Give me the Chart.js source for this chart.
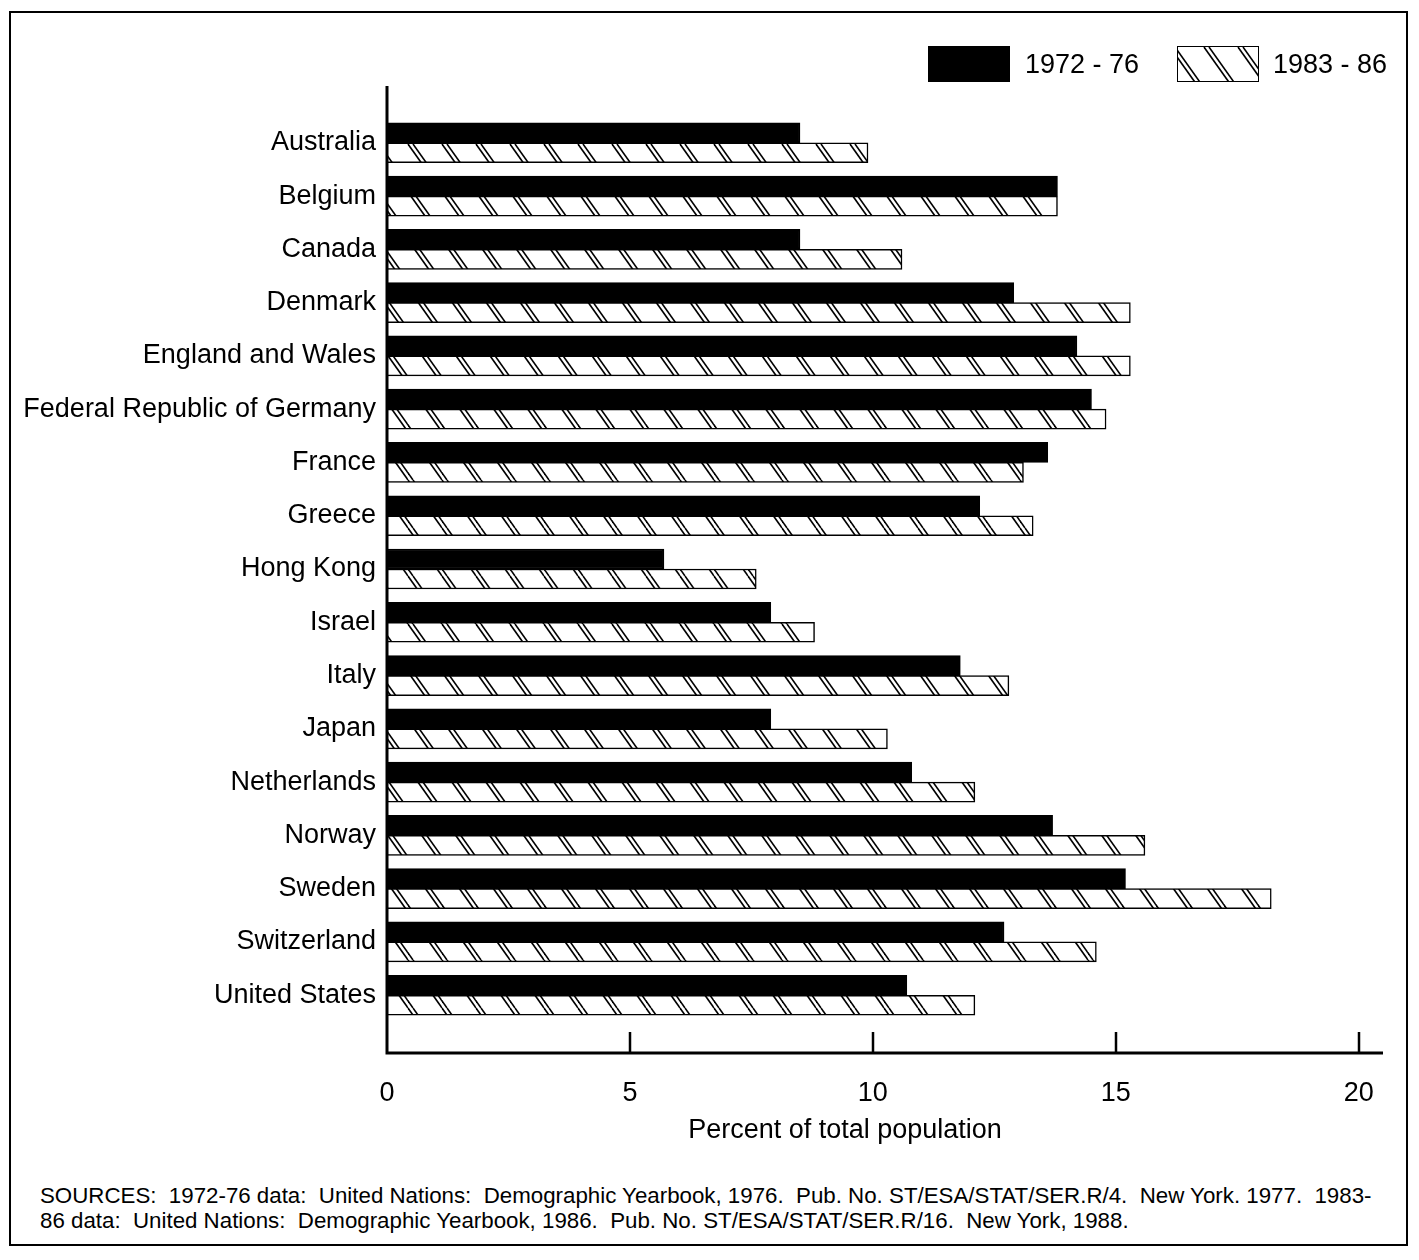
<!DOCTYPE html>
<html>
<head>
<meta charset="utf-8">
<script src="https://cdn.jsdelivr.net/npm/chart.js@4.4.1/dist/chart.umd.min.js"></script>
<style>
  body { margin: 0; background: #fff; font-family: "Liberation Sans", Arial, sans-serif; color: #000; }
  #page { position: relative; width: 1419px; height: 1260px; overflow: hidden; }
  #frame { position: absolute; left: 9px; top: 11px; width: 1399px; height: 1235px; border: 2px solid #000; box-sizing: border-box; }
  #myChart { position: absolute; left: 0; top: 0; }
  .legend { position: absolute; top: 46px; font-size: 27px; line-height: 36px; }
  .swatch { position: absolute; top: 46px; width: 82px; height: 36px; box-sizing: border-box; border: 1.5px solid #000; }
  #xtitle { position: absolute; left: 595px; width: 500px; top: 1114px; text-align: center; font-size: 27px; }
  #sources { position: absolute; left: 40px; top: 1183px; font-size: 22.3px; line-height: 25px; white-space: pre; }
</style>
</head>
<body>
<div id="page">
  <div id="frame"></div>
  <canvas id="myChart" width="1419" height="1160"></canvas>
  <div class="swatch" id="sw1" style="left:928px; background:#000;"></div>
  <div class="legend" id="lg1" style="left:1025px;"></div>
  <div class="swatch" id="sw2" style="left:1177px;"></div>
  <div class="legend" id="lg2" style="left:1273px;"></div>
  <div id="xtitle">Percent of total population</div>
  <div id="sources">SOURCES:  1972-76 data:  United Nations:  Demographic Yearbook, 1976.  Pub. No. ST/ESA/STAT/SER.R/4.  New York. 1977.  1983-
86 data:  United Nations:  Demographic Yearbook, 1986.  Pub. No. ST/ESA/STAT/SER.R/16.  New York, 1988.</div>
</div>
<script>
var countries = ['Australia', 'Belgium', 'Canada', 'Denmark', 'England and Wales',
  'Federal Republic of Germany', 'France', 'Greece', 'Hong Kong', 'Israel', 'Italy',
  'Japan', 'Netherlands', 'Norway', 'Sweden', 'Switzerland', 'United States'];
var series1Label = '1972 - 76';
var series2Label = '1983 - 86';
var values1972 = [8.5, 13.8, 8.5, 12.9, 14.2, 14.5, 13.6, 12.2, 5.7, 7.9, 11.8, 7.9, 10.8, 13.7, 15.2, 12.7, 10.7];
var values1983 = [9.9, 13.8, 10.6, 15.3, 15.3, 14.8, 13.1, 13.3, 7.6, 8.8, 12.8, 10.3, 12.1, 15.6, 18.2, 14.6, 12.1];
var xTicks = [0, 5, 10, 15, 20];

// Hatch pattern: pairs of "\" lines
function makeHatch() {
  var c = document.createElement('canvas');
  c.width = 34;
  c.height = 48;
  var ctx = c.getContext('2d');
  ctx.fillStyle = '#fff';
  ctx.fillRect(0, 0, 34, 48);
  ctx.strokeStyle = '#000';
  ctx.lineWidth = 1.6;
  [-34, 0, 34].forEach(function(o) {
    [0, 5].forEach(function(d) {
      ctx.beginPath();
      ctx.moveTo(o + d, 0);
      ctx.lineTo(o + d + 34, 48);
      ctx.stroke();
    });
  });
  return c;
}

var hatchCanvas = makeHatch();
var canvas = document.getElementById('myChart');
var hatch = canvas.getContext('2d').createPattern(hatchCanvas, 'repeat');

document.getElementById('lg1').textContent = series1Label;
document.getElementById('lg2').textContent = series2Label;
var sw2 = document.getElementById('sw2');
sw2.style.backgroundImage = 'url(' + hatchCanvas.toDataURL() + ')';
sw2.style.backgroundPosition = '-8px 0';

// blank category at both ends so the bars sit inside the axis frame
var labels = [''].concat(countries, ['']);
function pad(arr) { return [null].concat(arr, [null]); }

// axis lines run a little past the chart area, plus upward tick marks
var AXIS_TOP = 86, AXIS_BOTTOM = 1053;
var axisLines = {
  id: 'axisLines',
  afterDraw: function(chart) {
    var ctx = chart.ctx;
    var xs = chart.scales.x;
    var left = chart.chartArea.left;
    var right = chart.chartArea.right;
    ctx.save();
    ctx.strokeStyle = '#000';
    ctx.lineWidth = 3;
    ctx.beginPath();
    ctx.moveTo(left, AXIS_TOP);
    ctx.lineTo(left, AXIS_BOTTOM);
    ctx.lineTo(right, AXIS_BOTTOM);
    ctx.stroke();
    ctx.lineWidth = 2.5;
    xTicks.forEach(function(v) {
      if (v === 0) return;
      var x = Math.round(xs.getPixelForValue(v));
      ctx.beginPath();
      ctx.moveTo(x, AXIS_BOTTOM);
      ctx.lineTo(x, AXIS_BOTTOM - 21);
      ctx.stroke();
    });
    ctx.restore();
  }
};

var chart = new Chart(canvas, {
  type: 'bar',
  data: {
    labels: labels,
    datasets: [{
      label: series1Label,
      data: pad(values1972),
      backgroundColor: '#000',
      borderColor: '#000',
      borderWidth: 1.5,
      barThickness: 20
    }, {
      label: series2Label,
      data: pad(values1983),
      backgroundColor: hatch,
      borderColor: '#000',
      borderWidth: 1.5,
      barThickness: 20
    }]
  },
  options: {
    indexAxis: 'y',
    responsive: false,
    animation: false,
    events: [],
    layout: {
      padding: { top: 89.5, right: 36, left: 0, bottom: 0 }
    },
    scales: {
      x: {
        type: 'linear',
        min: 0,
        max: 20.5,
        grid: { display: false, drawTicks: false },
        border: { display: false },
        ticks: {
          stepSize: 5,
          padding: 28.5,
          color: '#000',
          font: { family: '"Liberation Sans", Arial, sans-serif', size: 27 }
        },
        afterBuildTicks: function(axis) {
          axis.ticks = xTicks.map(function(v) { return { value: v }; });
        },
        afterFit: function(axis) { axis.height = 111.5; }
      },
      y: {
        type: 'category',
        offset: false,
        grid: { display: false, drawTicks: false },
        border: { display: false },
        ticks: {
          autoSkip: false,
          padding: 11,
          color: '#000',
          font: { family: '"Liberation Sans", Arial, sans-serif', size: 27 }
        },
        afterFit: function(axis) { axis.width = 387; }
      }
    },
    plugins: {
      legend: { display: false },
      tooltip: { enabled: false }
    }
  },
  plugins: [axisLines]
});
</script>
</body>
</html>
